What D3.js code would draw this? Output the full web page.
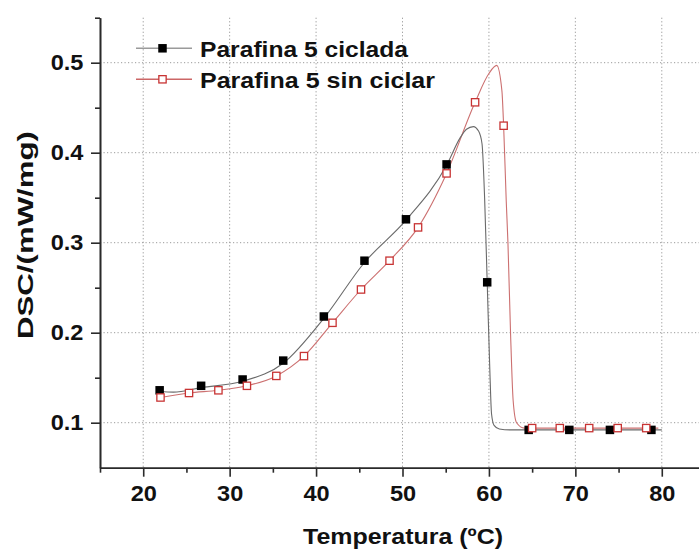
<!DOCTYPE html>
<html>
<head>
<meta charset="utf-8">
<script src="https://cdn.jsdelivr.net/npm/d3@7"></script>
<style>
  body { margin: 0; background: #fff; }
  svg { display: block; }
</style>
</head>
<body>
<svg id="chart" width="699" height="550"></svg>
<script>
// Axis ticks
const xTicks = [20, 30, 40, 50, 60, 70, 80];
const xMinor = [15, 25, 35, 45, 55, 65, 75, 85];
const yTicks = [0.1, 0.2, 0.3, 0.4, 0.5];
const yMinor = [0.15, 0.25, 0.35, 0.45, 0.55];

const seriesNames = ["Parafina 5 ciclada", "Parafina 5 sin ciclar"];

// Marked samples, temperature (ºC) and DSC (mW/mg)
const cicladaT = [21.9, 26.7, 31.5, 36.2, 40.9, 45.6, 50.4, 55.1, 59.8, 64.6, 69.3, 74.0, 78.8];
const cicladaV = [0.136, 0.141, 0.148, 0.169, 0.218, 0.280, 0.326, 0.387, 0.256, 0.092, 0.092, 0.092, 0.092];
const sinCiclarT = [22.0, 25.3, 28.7, 32.0, 35.4, 38.6, 41.9, 45.2, 48.5, 51.8, 55.1, 58.4, 61.7, 65.0, 68.2, 71.6, 74.9, 78.2];
const sinCiclarV = [0.128, 0.133, 0.136, 0.141, 0.152, 0.174, 0.211, 0.248, 0.280, 0.317, 0.377, 0.456, 0.430, 0.094, 0.094, 0.094, 0.094, 0.094];

// Continuous DSC traces
const cicladaCurveT = [21.9, 23.5, 26.7, 31.5, 36.2, 40.9, 45.6, 50.4, 55.1, 56.7, 57.4, 58.2, 58.8, 59.2, 59.5, 59.8, 60.1, 60.3, 60.6, 61.2, 62.5, 70.0, 80.0];
const cicladaCurveV = [0.135, 0.134, 0.139, 0.146, 0.166, 0.216, 0.278, 0.325, 0.386, 0.417, 0.426, 0.429, 0.424, 0.410, 0.350, 0.256, 0.160, 0.110, 0.097, 0.093, 0.092, 0.092, 0.092];
const sinCiclarCurveT = [22.0, 25.3, 28.7, 32.0, 35.4, 38.6, 41.9, 45.2, 48.5, 51.8, 55.1, 58.4, 60.0, 60.9, 61.5, 61.7, 62.0, 62.2, 62.5, 62.8, 63.2, 64.1, 66.0, 79.6];
const sinCiclarCurveV = [0.128, 0.133, 0.136, 0.141, 0.152, 0.174, 0.211, 0.248, 0.280, 0.317, 0.377, 0.456, 0.488, 0.497, 0.469, 0.430, 0.347, 0.300, 0.200, 0.125, 0.100, 0.094, 0.094, 0.094];

const svg = d3.select("#chart");
const FONT = "'Liberation Sans', Arial, sans-serif";
const SX = 1.07; // horizontal stretch of the bold tick labels

const x = d3.scaleLinear().domain([15, 85]).range([100, 705]);
const y = d3.scaleLinear().domain([0.05, 0.55]).range([467.7, 17.7]);

// Dotted grid
const grid = svg.append("g").attr("stroke", "#9a9a9a").attr("stroke-width", 1)
  .attr("stroke-dasharray", "1.2,2.3");
grid.selectAll("line.v").data(xTicks).join("line").attr("class", "v")
  .attr("x1", d => x(d)).attr("x2", d => x(d)).attr("y1", y(0.55)).attr("y2", y(0.05));
grid.selectAll("line.h").data(yTicks).join("line").attr("class", "h")
  .attr("x1", x(15)).attr("x2", 699).attr("y1", d => y(d)).attr("y2", d => y(d));

// Traces
const line = d3.line().x(d => x(d[0])).y(d => y(d[1])).curve(d3.curveMonotoneX);
const zip = (a, b) => a.map((v, i) => [v, b[i]]);

svg.append("path").datum(zip(sinCiclarCurveT, sinCiclarCurveV))
  .attr("d", line).attr("fill", "none").attr("stroke", "#cc7070").attr("stroke-width", 1.1);
svg.append("path").datum(zip(cicladaCurveT, cicladaCurveV))
  .attr("d", line).attr("fill", "none").attr("stroke", "#6a6a6a").attr("stroke-width", 1.1);

const MS = 8.5;
svg.append("g").selectAll("rect").data(zip(cicladaT, cicladaV)).join("rect")
  .attr("x", d => x(d[0]) - MS / 2).attr("y", d => y(d[1]) - MS / 2)
  .attr("width", MS).attr("height", MS).attr("fill", "#000");
svg.append("g").selectAll("rect").data(zip(sinCiclarT, sinCiclarV)).join("rect")
  .attr("x", d => x(d[0]) - MS / 2 + 0.6).attr("y", d => y(d[1]) - MS / 2 + 0.6)
  .attr("width", MS - 1.2).attr("height", MS - 1.2)
  .attr("fill", "#fff").attr("stroke", "#c83434").attr("stroke-width", 1.3);

// Axes
function styleAxis(g) {
  g.select(".domain").attr("stroke", "#2a2a2a").attr("stroke-width", 1.6);
  g.selectAll(".tick line").attr("stroke", "#2a2a2a").attr("stroke-width", 1.6);
}
const xAxis = svg.append("g").attr("transform", `translate(0,${y(0.05)})`)
  .call(d3.axisBottom(x).tickValues(xTicks).tickSize(9).tickSizeOuter(0).tickPadding(9).tickFormat(d3.format("d")))
  .call(styleAxis);
svg.append("g").attr("transform", `translate(0,${y(0.05)})`)
  .call(d3.axisBottom(x).tickValues(xMinor).tickSize(5).tickSizeOuter(0).tickFormat(""))
  .call(styleAxis);
const yAxis = svg.append("g").attr("transform", `translate(${x(15)},0)`)
  .call(d3.axisLeft(y).tickValues(yTicks).tickSize(9).tickSizeOuter(0).tickPadding(6.5).tickFormat(d3.format(".1f")))
  .call(styleAxis);
svg.append("g").attr("transform", `translate(${x(15)},0)`)
  .call(d3.axisLeft(y).tickValues(yMinor).tickSize(5).tickSizeOuter(0).tickFormat(""))
  .call(styleAxis);

[xAxis, yAxis].forEach(g => g.selectAll(".tick text")
  .attr("font-family", FONT).attr("font-size", 22).attr("font-weight", "bold")
  .attr("fill", "#111").attr("transform", `scale(${SX},1)`));

// Axis titles
svg.append("text").attr("x", 403).attr("y", 544).attr("text-anchor", "middle")
  .attr("font-family", FONT).attr("font-size", 22.5).attr("font-weight", "bold").attr("fill", "#111")
  .attr("textLength", 200).attr("lengthAdjust", "spacingAndGlyphs")
  .text("Temperatura (ºC)");
svg.append("text").attr("transform", "translate(33,235) rotate(-90)").attr("text-anchor", "middle")
  .attr("font-family", FONT).attr("font-size", 22.5).attr("font-weight", "bold").attr("fill", "#111")
  .attr("textLength", 208).attr("lengthAdjust", "spacingAndGlyphs")
  .text("DSC/(mW/mg)");

// Legend
const legend = [
  { name: seriesNames[0], ly: 48.3, line: "#9a9a9a", fill: "#000", stroke: "none", w: 208 },
  { name: seriesNames[1], ly: 79.3, line: "#cc6666", fill: "#fff", stroke: "#c83434", w: 235 }
];
const lg = svg.append("g");
legend.forEach(d => {
  lg.append("line").attr("x1", 136).attr("x2", 192).attr("y1", d.ly).attr("y2", d.ly)
    .attr("stroke", d.line).attr("stroke-width", 1.4);
  if (d.stroke === "none") {
    lg.append("rect").attr("x", 162.5 - MS / 2).attr("y", d.ly - MS / 2).attr("width", MS).attr("height", MS)
      .attr("fill", d.fill);
  } else {
    lg.append("rect").attr("x", 162.5 - MS / 2 + 0.6).attr("y", d.ly - MS / 2 + 0.6)
      .attr("width", MS - 1.2).attr("height", MS - 1.2)
      .attr("fill", d.fill).attr("stroke", d.stroke).attr("stroke-width", 1.3);
  }
  lg.append("text").attr("x", 200).attr("y", d.ly + 8.5)
    .attr("font-family", FONT).attr("font-size", 22).attr("font-weight", "bold").attr("fill", "#111")
    .attr("textLength", d.w).attr("lengthAdjust", "spacingAndGlyphs")
    .text(d.name);
});
</script>
</body>
</html>
